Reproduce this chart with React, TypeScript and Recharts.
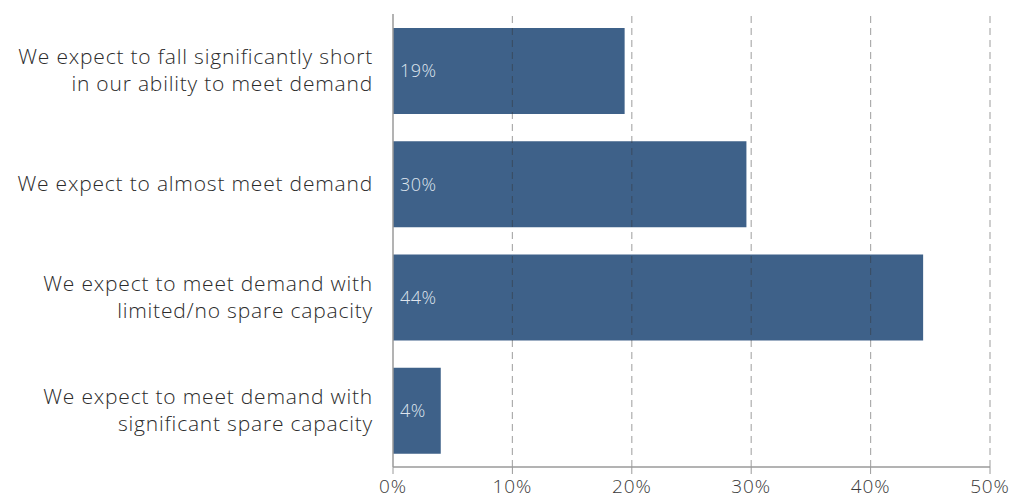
import React from "react";
import { BarChart, Bar, XAxis, YAxis, LabelList, ReferenceLine } from "recharts";

const categories = [
  "We expect to fall significantly short|in our ability to meet demand",
  "We expect to almost meet demand",
  "We expect to meet demand with|limited/no spare capacity",
  "We expect to meet demand with|significant spare capacity",
];
const values = [19.4, 29.6, 44.4, 4.0];
const valueLabels = ["19%", "30%", "44%", "4%"];
const xTicks = [0, 10, 20, 30, 40, 50];
const gridLines = [10, 20, 30, 40, 50];

const data = categories.map((c, i) => ({ name: c, value: values[i], label: valueLabels[i] }));

const FONT = "'Open Sans', 'Noto Sans', sans-serif";

const CatTick = (props: any) => {
  const { x, y, payload } = props;
  const lines: string[] = String(payload.value).split("|");
  const lh = 27;
  const start = -((lines.length - 1) * lh) / 2;
  return (
    <g>
      {lines.map((l, i) => (
        <text
          key={i}
          x={x - 12}
          y={y + start + i * lh}
          dy={7}
          textAnchor="end"
          fill="#2b2b2b"
          fontSize={21}
          fontWeight={300}
          letterSpacing={0.8}
          fontFamily={FONT}
        >
          {l}
        </text>
      ))}
    </g>
  );
};

export default function App() {
  return (
    <div style={{ position: "absolute", left: 0, top: 0, width: 1013, height: 502, background: "#fff" }}>
      <BarChart
        width={1013}
        height={502}
        data={data}
        layout="vertical"
        margin={{ top: 14, right: 23, bottom: 0, left: 0 }}
        barCategoryGap={27}
      >
        <XAxis
          type="number"
          domain={[0, 50]}
          ticks={xTicks}
          tickFormatter={(v: number) => `${v}%`}
          height={35}
          axisLine={{ stroke: "#9a9a9a", strokeWidth: 1.5 }}
          tickLine={{ stroke: "#9a9a9a" }}
          tickSize={7}
          tick={{ fill: "#3a3a3a", fontSize: 19, fontWeight: 300, letterSpacing: 0.9, fontFamily: FONT }}
          tickMargin={6}
          interval={0}
        />
        <YAxis
          type="category"
          dataKey="name"
          width={393}
          axisLine={{ stroke: "#9a9a9a", strokeWidth: 1.5 }}
          tickLine={false}
          tick={<CatTick />}
          interval={0}
        />
        <Bar dataKey="value" fill="#3e6189" isAnimationActive={false} barSize={86}>
          <LabelList
            dataKey="label"
            position="insideLeft"
            offset={7}
            fill="#dfe5ee"
            fontSize={18}
            fontWeight={300}
            letterSpacing={0.5}
            fontFamily={FONT}
          />
        </Bar>
        {gridLines.map((g) => (
          <ReferenceLine
            key={g}
            x={g}
            stroke="#333"
            strokeOpacity={0.4}
            strokeDasharray="7 5"
            strokeWidth={1.2}
          />
        ))}
      </BarChart>
    </div>
  );
}
